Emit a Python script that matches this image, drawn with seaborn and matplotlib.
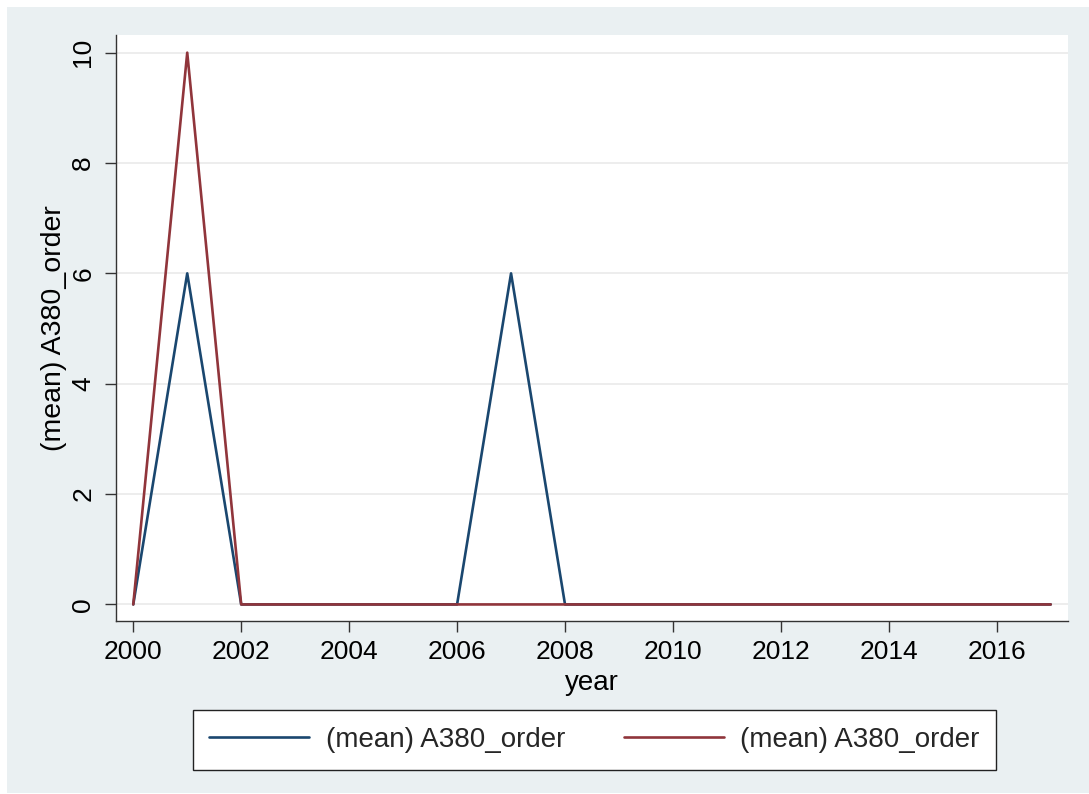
import matplotlib
matplotlib.use('Agg')
import matplotlib.pyplot as plt
import seaborn as sns
import pandas as pd
from matplotlib.patches import Rectangle

# data
years = list(range(2000, 2018))
order_navy = [0, 6, 0, 0, 0, 0, 0, 6, 0, 0, 0, 0, 0, 0, 0, 0, 0, 0]
order_maroon = [0, 10, 0, 0, 0, 0, 0, 0, 0, 0, 0, 0, 0, 0, 0, 0, 0, 0]
series_label = '(mean) A380_order'
xticks = list(range(2000, 2017, 2))
yticks = [0, 2, 4, 6, 8, 10]

sns.set_theme(style='white')
plt.rcParams['font.family'] = ['Liberation Sans', 'DejaVu Sans']

W, H = 1089, 794
fig = plt.figure(figsize=(W / 100, H / 100), dpi=100, facecolor='white')

# stata-like graph region
fig.patches.append(Rectangle((7 / W, 1 / H), (W - 7) / W, (H - 8) / H,
                             transform=fig.transFigure, facecolor='#EAF0F2',
                             edgecolor='none', zorder=-10))

ax = fig.add_axes([116 / W, 1 - 621 / H, (1068 - 116) / W, (621 - 35) / H])
ax.set_facecolor('white')

df = pd.DataFrame({'year': years, 'navy': order_navy, 'maroon': order_maroon})
sns.lineplot(data=df, x='year', y='navy', ax=ax, color='#1A476F', lw=1.9,
             label=series_label, legend=False)
sns.lineplot(data=df, x='year', y='maroon', ax=ax, color='#90353B', lw=1.9,
             label=series_label, legend=False)

ax.set_xlim(1999.68, 2017.32)
ax.set_ylim(-0.3, 10.32)
ax.set_xticks(xticks)
ax.set_yticks(yticks)
ax.grid(axis='y', color='#EAEAEA', lw=1.2)
ax.grid(axis='x', visible=False)
ax.set_axisbelow(True)

for s in ['top', 'right']:
    ax.spines[s].set_visible(False)
for s in ['left', 'bottom']:
    ax.spines[s].set_color('#333333')
    ax.spines[s].set_linewidth(1.0)

ax.tick_params(axis='both', direction='out', length=8, width=1.0, color='#333333',
               labelsize=19, labelcolor='black', left=True, bottom=True)
ax.tick_params(axis='x', pad=6)
ax.tick_params(axis='y', pad=7)
for lab in ax.get_yticklabels():
    lab.set_rotation(90)
    lab.set_va('center')

ax.set_xlabel('year', fontsize=20, color='black', labelpad=4)
ax.set_ylabel(series_label, fontsize=20.5, color='black', labelpad=3)

handles, labels = ax.get_legend_handles_labels()
leg = fig.legend(handles, labels, loc='center', ncol=2,
                 bbox_to_anchor=(594.5 / W, 1 - 740 / H),
                 fontsize=20, frameon=True, fancybox=False, framealpha=1,
                 handlelength=3.6, handletextpad=0.6, columnspacing=2.1,
                 borderpad=0.6)
leg.get_frame().set_edgecolor('#222222')
leg.get_frame().set_linewidth(1.0)
leg.get_frame().set_facecolor('white')

fig.savefig('out.png', dpi=100, facecolor='white')
